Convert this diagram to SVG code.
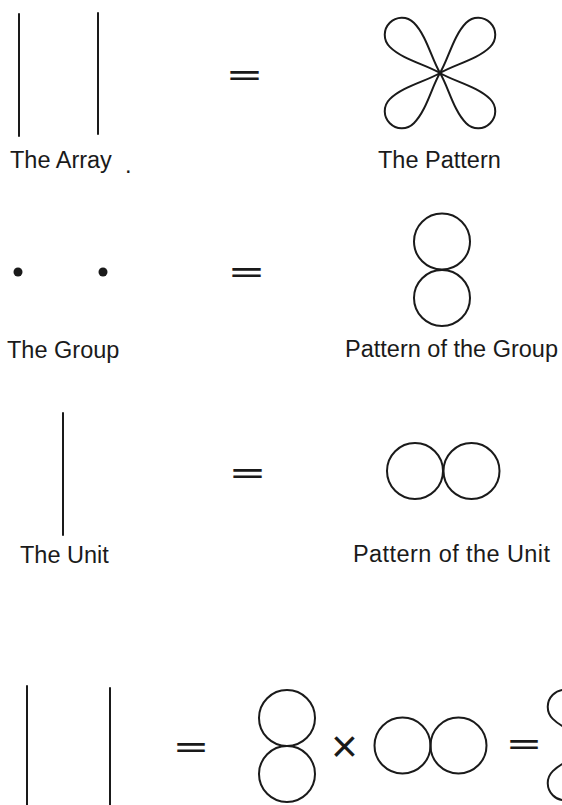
<svg xmlns="http://www.w3.org/2000/svg" width="562" height="805" viewBox="0 0 562 805">
  <style>
    .ln { stroke: #1a1a1a; stroke-width: 2; fill: none; stroke-linecap: round; }
    .sh { stroke: #1a1a1a; stroke-width: 2; fill: none; }
    .lbl { font-family: "Liberation Sans", Arial, sans-serif; font-size: 23.5px; fill: #1a1a1a; }
    .op { font-family: "Liberation Sans", Arial, sans-serif; font-size: 46px; fill: #1a1a1a; }
    .eq { font-family: "Liberation Sans", Arial, sans-serif; font-size: 23px; font-weight: bold; fill: #1a1a1a; }
  </style>
  <defs>
    <path id="lobe" d="M0,0 C16,-4 36,-17 54,-17 C64,-17 71,-9 71,0 C71,9 64,17 54,17 C36,17 16,4 0,0 Z"/>
    <g id="clover">
      <use href="#lobe" transform="rotate(-135)"/>
      <use href="#lobe" transform="rotate(-45)"/>
      <use href="#lobe" transform="rotate(45)"/>
      <use href="#lobe" transform="rotate(135)"/>
    </g>
  </defs>
  <rect width="562" height="805" fill="#ffffff"/>

  <!-- Row 1 -->
  <g id="array">
    <line class="ln" x1="19" y1="14" x2="19" y2="136"/>
    <line class="ln" x1="98" y1="13" x2="98" y2="134"/>
    <text class="lbl" x="10" y="168">The Array</text>
    <text class="lbl" x="125" y="173">.</text>
  </g>
  <g id="eq1"><text class="eq" x="228" y="84" textLength="33" lengthAdjust="spacingAndGlyphs">=</text></g>
  <g id="pattern">
    <g class="sh" transform="translate(440,73)"><use href="#clover"/></g>
    <text class="lbl" x="378" y="168">The Pattern</text>
  </g>

  <!-- Row 2 -->
  <g id="group">
    <circle cx="18" cy="272" r="4.5" fill="#1a1a1a"/>
    <circle cx="103" cy="272" r="4.5" fill="#1a1a1a"/>
    <text class="lbl" x="7" y="358">The Group</text>
  </g>
  <g id="eq2"><text class="eq" x="230" y="281" textLength="33" lengthAdjust="spacingAndGlyphs">=</text></g>
  <g id="pattern-group">
    <circle class="sh" cx="442" cy="241.5" r="28"/>
    <circle class="sh" cx="442" cy="298" r="28"/>
    <text class="lbl" x="345" y="357" textLength="213" lengthAdjust="spacing">Pattern of the Group</text>
  </g>

  <!-- Row 3 -->
  <g id="unit">
    <line class="ln" x1="63" y1="413" x2="63" y2="535"/>
    <text class="lbl" x="20" y="563">The Unit</text>
  </g>
  <g id="eq3"><text class="eq" x="231" y="482" textLength="33" lengthAdjust="spacingAndGlyphs">=</text></g>
  <g id="pattern-unit">
    <circle class="sh" cx="415" cy="471" r="28"/>
    <circle class="sh" cx="471.5" cy="471" r="28"/>
    <text class="lbl" x="353" y="562" textLength="197" lengthAdjust="spacing">Pattern of the Unit</text>
  </g>

  <!-- Row 4 -->
  <g id="array-2">
    <line class="ln" x1="27" y1="686" x2="27" y2="806"/>
    <line class="ln" x1="110" y1="688" x2="110" y2="806"/>
  </g>
  <g id="eq4"><text class="eq" x="175" y="756" textLength="32" lengthAdjust="spacingAndGlyphs">=</text></g>
  <g id="group-pattern-2">
    <circle class="sh" cx="287" cy="718" r="28"/>
    <circle class="sh" cx="287" cy="774" r="28"/>
  </g>
  <g id="times"><text class="op" x="331" y="762">×</text></g>
  <g id="unit-pattern-2">
    <circle class="sh" cx="402.5" cy="745.5" r="28"/>
    <circle class="sh" cx="458.5" cy="745.5" r="28"/>
  </g>
  <g id="eq5"><text class="eq" x="508" y="753" textLength="32" lengthAdjust="spacingAndGlyphs">=</text></g>
  <g id="pattern-2">
    <g class="sh" transform="translate(603,745)"><use href="#clover"/></g>
  </g>
</svg>
